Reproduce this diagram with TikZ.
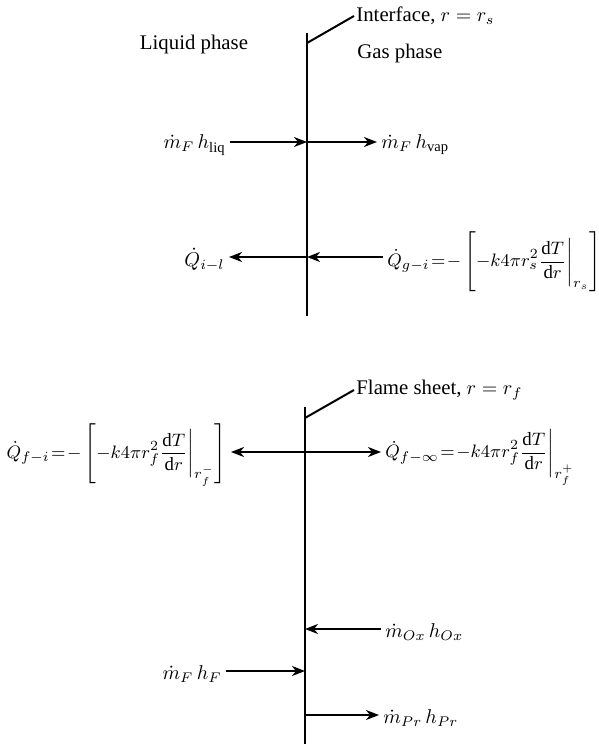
\documentclass[tikz,border=0pt]{standalone}
\usepackage{fontspec}
\setmainfont{Liberation Serif}
\usetikzlibrary{arrows.meta,positioning}
\newcommand\tightmath{\thickmuskip=1.5mu\medmuskip=1.5mu}

\begin{document}
\begin{tikzpicture}[
  x=0.5pt, y=-0.5pt,
  font=\fontsize{10.4}{12.5}\selectfont,
  wall/.style={line width=1pt},
  arr/.style={-{Stealth[length=6.5pt, width=5pt, inset=2pt]}, line width=1pt},
  arrboth/.style={{Stealth[length=6.5pt, width=5pt, inset=2pt]}-{Stealth[length=6.5pt, width=5pt, inset=2pt]}, line width=1pt},
  flux/.style={inner sep=2pt},
  heat/.style={inner sep=2pt, font=\fontsize{9.4}{11}\selectfont},
]
\useasboundingbox (0,0) rectangle (599,744);

% droplet surface
\coordinate (itop) at (307,33);
\coordinate (ibot) at (307,316);
\coordinate (ikink) at (307,43);
\draw[wall] (itop) -- (ibot);
\node[anchor=west, inner sep=1pt] (iface) at (354,16) {Interface, $r=r_s$};
\draw[wall] (ikink) -- (iface.west);
\node (liq) at (194,44) {Liquid phase};
\node[anchor=west, inner sep=1pt] (gas) at (355,53) {Gas phase};

\coordinate (s1) at (307,142);
\node[flux, anchor=east] (mliq) at (230,145) {$\dot m_F\,h_{\mathrm{liq}}$};
\node[flux, anchor=west] (mvap) at (377,145) {$\dot m_F\,h_{\mathrm{vap}}$};
\draw[arr] (mliq.east |- s1) -- (s1);
\draw[arr] (s1) -- (mvap.west |- s1);

\coordinate (s2) at (307,257);
\node[flux, anchor=east] (qil) at (229,260) {$\dot Q_{i-l}$};
\node[heat, anchor=west] (qgi) at (383,262)
  {$\tightmath\dot Q_{g-i}=-\left[-k4\pi r_s^2\displaystyle\frac{\mathrm{d}T}{\mathrm{d}r}\bigg|_{r_s}\right]$};
\draw[arr] (s2) -- (qil.east |- s2);
\draw[arr] (qgi.west |- s2) -- (s2);

% flame sheet
\coordinate (ftop) at (305,407);
\coordinate (fbot) at (305,744);
\coordinate (fkink) at (305,418);
\draw[wall] (ftop) -- (fbot);
\node[anchor=west, inner sep=1pt] (flame) at (354,390) {Flame sheet, $r=r_f$};
\draw[wall] (fkink) -- (flame.west);

\coordinate (s3) at (305,452);
\node[heat, anchor=east] (qfi) at (231,455)
  {$\tightmath\dot Q_{f-i}=-\left[-k4\pi r_f^2\displaystyle\frac{\mathrm{d}T}{\mathrm{d}r}\bigg|_{r_f^-}\right]$};
\node[heat, anchor=west] (qfinf) at (381,457)
  {$\tightmath\dot Q_{f-\infty}=-k4\pi r_f^2\displaystyle\frac{\mathrm{d}T}{\mathrm{d}r}\bigg|_{r_f^+}$};
\draw[arrboth] (qfi.east |- s3) -- (qfinf.west |- s3);

\coordinate (s4) at (305,629);
\node[flux, anchor=west] (mox) at (381,632) {$\dot m_{Ox}\,h_{Ox}$};
\draw[arr] (mox.west |- s4) -- (s4);

\coordinate (s5) at (305,671);
\node[flux, anchor=east] (mf) at (226,674) {$\dot m_F\,h_F$};
\draw[arr] (mf.east |- s5) -- (s5);

\coordinate (s6) at (305,715);
\node[flux, anchor=west] (mpr) at (379,718) {$\dot m_{Pr}\,h_{Pr}$};
\draw[arr] (s6) -- (mpr.west |- s6);
\end{tikzpicture}
\end{document}
